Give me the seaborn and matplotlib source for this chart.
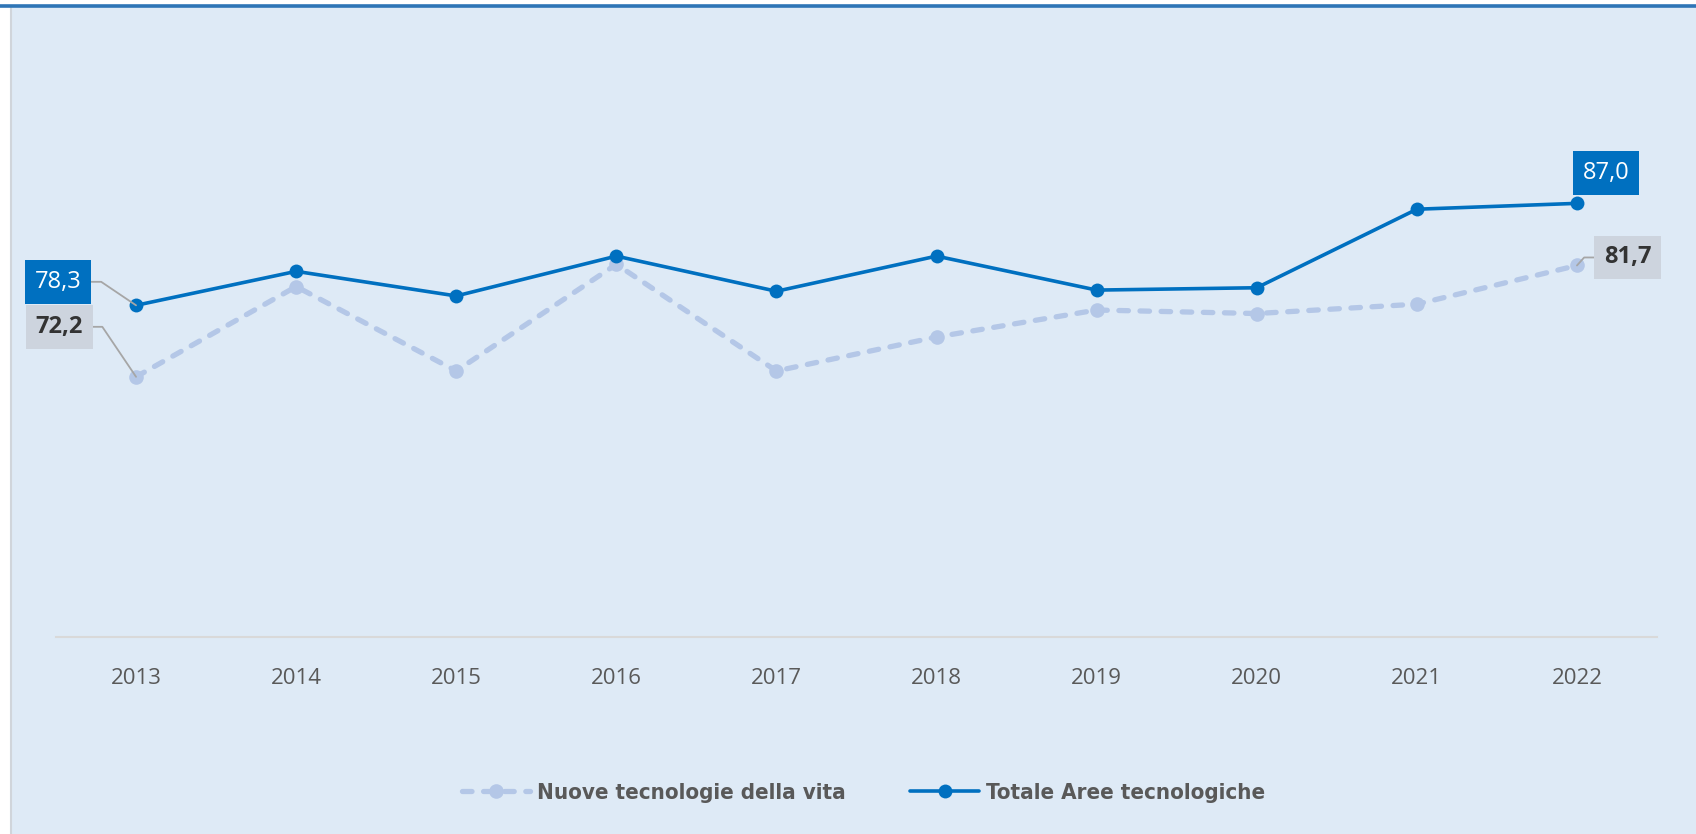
import matplotlib
matplotlib.use("Agg")
import matplotlib.pyplot as plt
import seaborn as sns
import pandas as pd
from matplotlib.patches import Rectangle
from matplotlib.lines import Line2D

# data
anni = [2013, 2014, 2015, 2016, 2017, 2018, 2019, 2020, 2021, 2022]
totale = [78.3, 81.2, 79.1, 82.5, 79.5, 82.5, 79.6, 79.8, 86.5, 87.0]
nuove = [72.2, 79.9, 72.7, 81.8, 72.7, 75.6, 77.9, 77.6, 78.4, 81.7]
nomi = ["Nuove tecnologie della vita", "Totale Aree tecnologiche"]

df = pd.DataFrame({"anno": anni, "totale": totale, "nuove": nuove})

blu = "#0070C0"
azzurro = "#B4C7E7"
sfondo = "#DEEAF6"

sns.set_style("white")
plt.rcParams["font.family"] = ["Open Sans", "DejaVu Sans"]

fig = plt.figure(figsize=(16.96, 8.34), dpi=100)
fig.patch.set_facecolor("white")

# panel background + borders
fig.patches.append(Rectangle((12 / 1696, 0), 1, 1 - 7 / 834, transform=fig.transFigure,
                             facecolor=sfondo, edgecolor="none", zorder=-10))
fig.add_artist(Line2D([11 / 1696, 11 / 1696], [0, 1 - 7 / 834], transform=fig.transFigure,
                      color="#D0D5DB", lw=1.5))
fig.add_artist(Line2D([0, 1], [1 - 5.5 / 834, 1 - 5.5 / 834], transform=fig.transFigure,
                      color="#2E75B6", lw=2.6))

ax = fig.add_axes([56 / 1696, 1 - 637 / 834, (1657 - 56) / 1696, (637 - 51) / 834])
ax.set_facecolor("none")

sns.lineplot(data=df, x="anno", y="nuove", ax=ax, color=azzurro, lw=3.8,
             marker="o", markersize=10.5, markeredgewidth=0, label=nomi[0])
sns.lineplot(data=df, x="anno", y="totale", ax=ax, color=blu, lw=2.6,
             marker="o", markersize=10, markeredgewidth=0, label=nomi[1])
l_nuove = ax.lines[0]
l_nuove.set_dashes((1.8, 2.2))
l_nuove.set_dash_capstyle("round")

ax.set_xlim(anni[0] - 0.5, anni[-1] + 0.5)
ax.set_ylim(50, 100)
ax.set_xticks(anni)
ax.set_xticklabels([str(a) for a in anni])
ax.set_yticks([])
ax.set_xlabel("")
ax.set_ylabel("")
for s in ["top", "right", "left"]:
    ax.spines[s].set_visible(False)
ax.spines["bottom"].set_color("#D9D9D9")
ax.spines["bottom"].set_linewidth(1.5)
ax.tick_params(axis="x", length=0, pad=22, labelsize=16, labelcolor="#595959")


def fmt(v):
    return f"{v:.1f}".replace(".", ",")


def etichetta(x, y, dx, dy, fc, tc, peso, angolo=None):
    kw = {}
    if angolo is not None:
        kw["arrowprops"] = dict(arrowstyle="-", color="#A6A6A6", lw=1.3, shrinkA=0, shrinkB=0,
                                connectionstyle=f"angle,angleA=0,angleB={angolo},rad=0")
    ax.annotate(fmt(y), xy=(x, y), xytext=(dx, dy), textcoords="offset pixels",
                ha="center", va="center", fontsize=17, color=tc, fontweight=peso,
                bbox=dict(boxstyle="square,pad=0.42", fc=fc, ec="none"), **kw)


etichetta(anni[0], totale[0], -78, 23.5, blu, "white", "normal", 146)
etichetta(anni[0], nuove[0], -76.5, 50, "#CDD4DE", "#333333", "bold", 124)
etichetta(anni[-1], totale[-1], 29, 30.5, blu, "white", "normal")
etichetta(anni[-1], nuove[-1], 50.5, 8, "#CDD4DE", "#333333", "bold", 48)

ax.get_legend().remove()
leg = fig.legend(handles=ax.lines[:2], labels=nomi, loc="center", ncol=2,
                 bbox_to_anchor=(0.509, 1 - 793 / 834), frameon=False,
                 handlelength=3.1, handletextpad=0.3, columnspacing=2.9,
                 prop=dict(family=["Liberation Sans Narrow", "DejaVu Sans"],
                           weight="bold", size=16, stretch="condensed"))
for t in leg.get_texts():
    t.set_color("#595959")

fig.savefig("out.png", dpi=100, facecolor=fig.get_facecolor())
